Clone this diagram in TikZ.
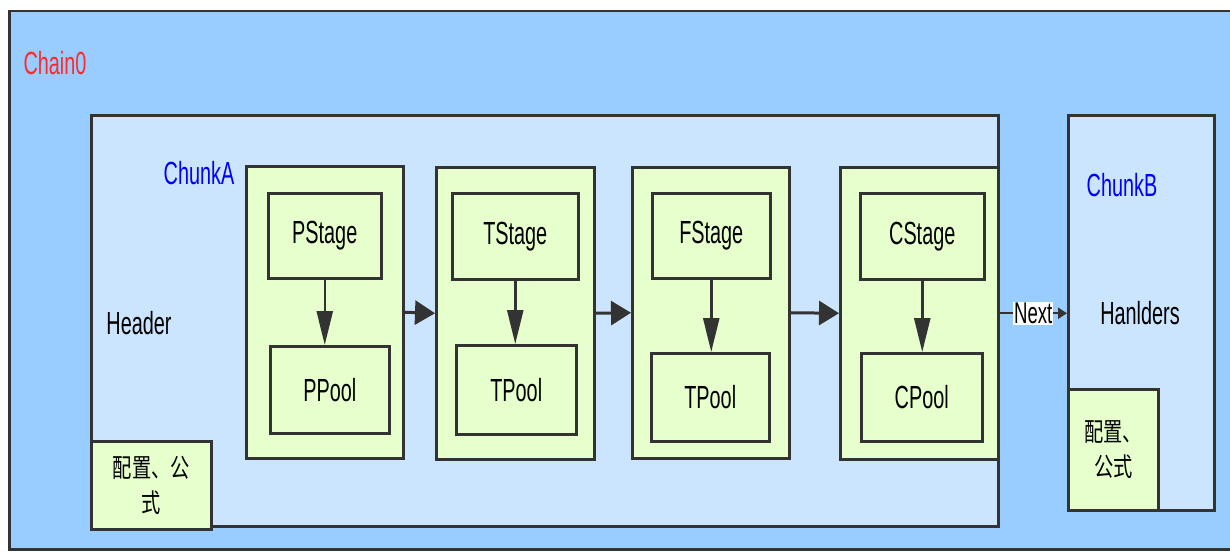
\documentclass[tikz,border=0pt]{standalone}
\usepackage{fontspec}
\setmainfont{Liberation Sans}
\newfontfamily\narrowsans[FakeStretch=0.62]{Liberation Sans}
\newfontfamily\cjk[FakeStretch=0.74]{Noto Sans CJK SC}
\usetikzlibrary{arrows.meta, positioning}
\definecolor{chainblue}{HTML}{99CCFF}
\definecolor{chunkblue}{HTML}{CCE5FF}
\definecolor{stagegreen}{HTML}{E6FFCC}
\definecolor{edgegray}{HTML}{333333}
\definecolor{chainred}{HTML}{FF2A2A}

\begin{document}
\begin{tikzpicture}[
    x=1pt, y=-1pt,
    font=\narrowsans\fontsize{32}{34}\selectfont,
    box/.style={rectangle, draw=edgegray, line width=2.5pt, anchor=north west, inner sep=0pt},
    chainbox/.style={box, fill=chainblue},
    chunkbox/.style={box, fill=chunkblue},
    stagebox/.style={box, fill=stagegreen},
    cfgbox/.style={box, fill=stagegreen, align=center, font=\cjk\fontsize{26}{35}\selectfont},
    flow/.style={draw=edgegray, line width=3pt, -{Triangle[length=20pt, width=24pt]}},
    down/.style={draw=edgegray, line width=2.5pt, -{Triangle[length=34pt, width=16pt]}},
    nextarrow/.style={draw=edgegray, line width=2pt, -{Triangle[length=9pt, width=11pt]}}
]
\useasboundingbox (0,0) rectangle (1230,551);

% Chain and chunks
\node[chainbox, minimum width=1240, minimum height=538] (chain) at (8,10) {};
\node[chunkbox, minimum width=907, minimum height=411] (chunkA) at (90,114) {};
\node[cfgbox, minimum width=120, minimum height=88] (cfgA) at (90,440) {配置、公\\式};

% Stages
\node[stagebox, minimum width=157, minimum height=292] (stageP) at (245,165) {};
\node[stagebox, minimum width=158, minimum height=292] (stageT) at (435,166) {};
\node[stagebox, minimum width=157, minimum height=291] (stageF) at (631,166) {};
\node[stagebox, minimum width=158, minimum height=292] (stageC) at (839,166) {};

\node[stagebox, minimum width=113, minimum height=85] (pstage) at (267,192) {PStage};
\node[stagebox, minimum width=119, minimum height=87] (ppool) at (269,345) {PPool};
\node[stagebox, minimum width=126, minimum height=86] (tstage) at (451,192) {TStage};
\node[stagebox, minimum width=120, minimum height=89] (tpool) at (455,344) {TPool};
\node[stagebox, minimum width=118, minimum height=85] (fstage) at (651,192) {FStage};
\node[stagebox, minimum width=118, minimum height=88] (fpool) at (650,352) {TPool};
\node[stagebox, minimum width=124, minimum height=86] (cstage) at (859,192) {CStage};
\node[stagebox, minimum width=121, minimum height=88] (cpool) at (860,352) {CPool};

\node[chunkbox, minimum width=146, minimum height=395] (chunkB) at (1067,114) {};
\node[cfgbox, minimum width=90, minimum height=121] (cfgB) at (1067,388) {配置、\\公式};

% Labels
\node[text=chainred] (chainname) at (55,63) {Chain0};
\node[text=blue] (chunkAname) at (199,173) {ChunkA};
\node (header) at (139,323) {Header};
\node[text=blue] (chunkBname) at (1122,185) {ChunkB};
\node (handlers) at (1140,313) {Hanlders};

% Arrows
\draw[down] (pstage.south) -- (pstage.south |- ppool.north);
\draw[down] (tstage.south) -- (tstage.south |- tpool.north);
\draw[down] (fstage.south) -- (fstage.south |- fpool.north);
\draw[down] (cstage.south) -- (cstage.south |- cpool.north);

\draw[flow] (stageP.east) -- (stageT.west);
\draw[flow] (stageT.east) -- (stageF.west);
\draw[flow] (stageF.east) -- (stageC.west);
\draw[nextarrow] (stageC.east) -- (chunkB.west |- stageC.east)
    node[midway, fill=white, inner sep=1pt, font=\narrowsans\fontsize{30}{32}\selectfont] (next) {Next};

\end{tikzpicture}
\end{document}
